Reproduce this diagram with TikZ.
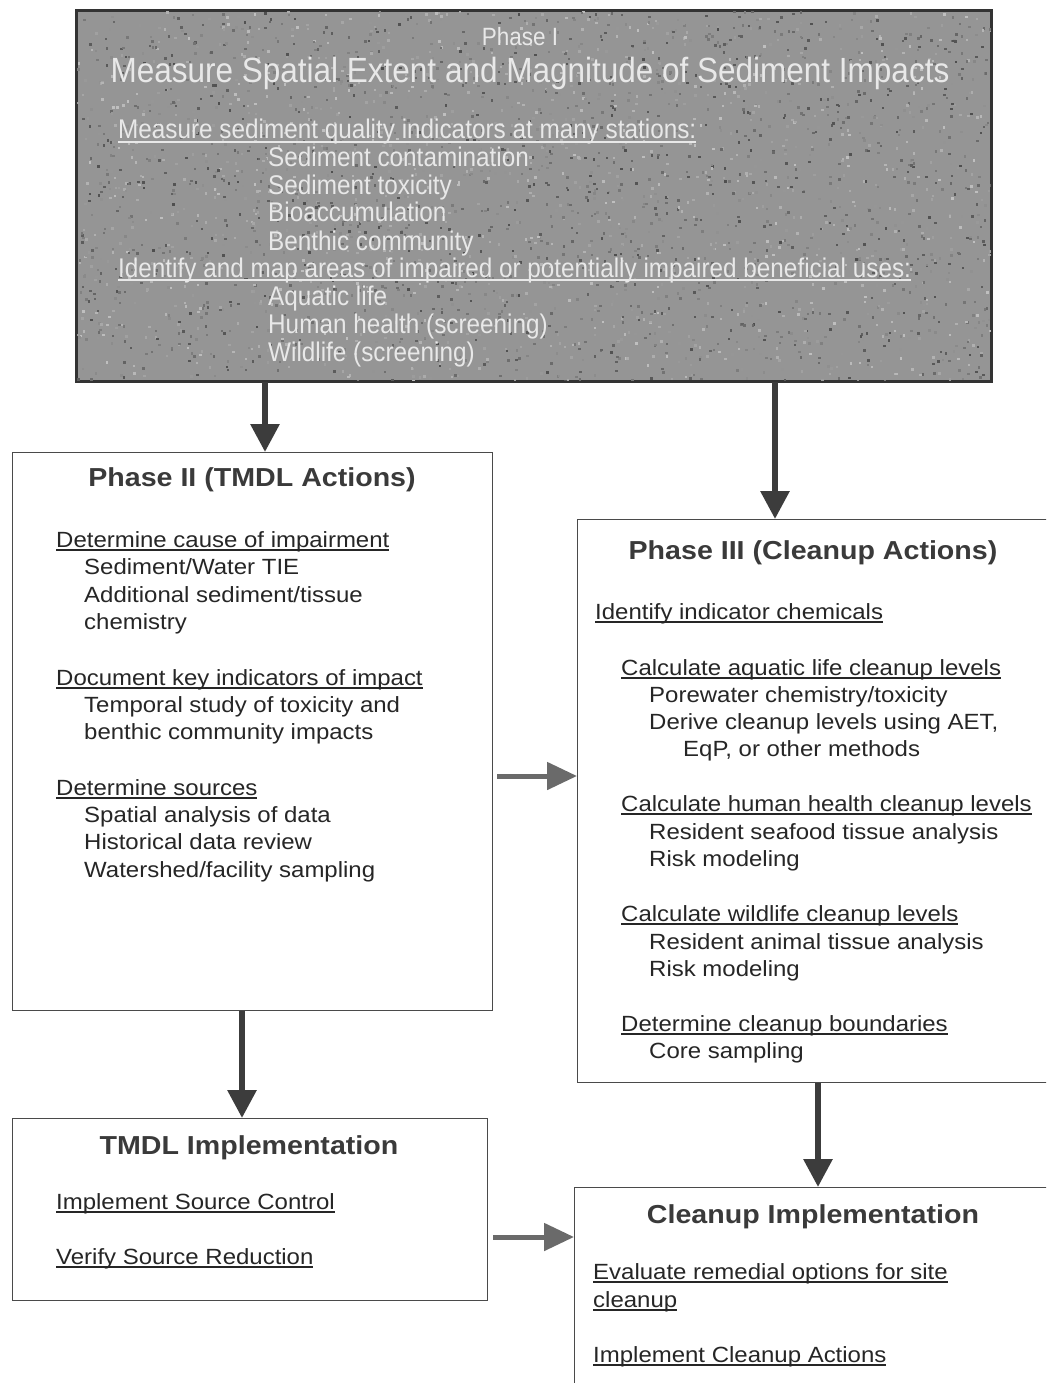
\documentclass[tikz,border=0pt]{standalone}
\usepackage{fontspec}
\setmainfont{Liberation Sans}
\newfontfamily\bodyf[FakeStretch=1.09]{Liberation Sans}
\newfontfamily\titlef[FakeStretch=1.1]{Liberation Sans}
\newfontfamily\narrowf[FakeStretch=0.9]{Liberation Sans}
\usetikzlibrary{arrows.meta}
\definecolor{tcol}{HTML}{262626}
\definecolor{ttl}{HTML}{3A3A3A}
\definecolor{boxln}{HTML}{4A4A4A}
\definecolor{pone}{HTML}{959595}
\definecolor{ponetxt}{HTML}{E8E8E8}
\definecolor{darkarr}{HTML}{3C3C3C}
\definecolor{midarr}{HTML}{6A6A6A}
\newcommand\ulx[1]{\setbox0\hbox{#1}\rlap{\rule[-3.6pt]{\wd0}{1.3pt}}\box0}
\tikzset{
  boxnode/.style={draw=boxln, line width=1.3pt, anchor=north west, inner sep=0, fill=white},
  txt/.style={anchor=base west, inner sep=0, text=tcol, font=\bodyf\fontsize{22}{26}\selectfont},
  ttlnode/.style={anchor=base, inner sep=0, text=ttl, font=\titlef\bfseries\fontsize{26}{30}\selectfont},
  ptxt/.style={anchor=base west, inner sep=0, text=ponetxt, font=\narrowf\fontsize{27}{30}\selectfont},
  darr/.style={draw=darkarr, line width=6pt, -{Triangle[width=28pt,length=28pt]}, fill=darkarr},
  harr/.style={draw=midarr, line width=5pt, -{Triangle[width=27pt,length=30pt]}, fill=midarr}
}
\begin{document}
\begin{tikzpicture}[x=1pt,y=-1pt]
\useasboundingbox (0,0) rectangle (1046,1383);
\clip (0,0) rectangle (1046,1383);
\fill[white] (0,0) rectangle (1046,1383);

% boxes
\node[boxnode, draw=black!80, line width=2pt, fill=pone, minimum width=914pt, minimum height=370pt] (p1) at (76,10) {};
\node[boxnode, minimum width=480pt, minimum height=558pt] (p2) at (12,452) {};
\node[boxnode, minimum width=490pt, minimum height=563pt] (p3) at (577,519) {};
\node[boxnode, minimum width=475pt, minimum height=182pt] (p4) at (12,1118) {};
\node[boxnode, minimum width=500pt, minimum height=230pt] (p5) at (574,1187) {};

% texture of the Phase I box
\pgfmathsetseed{11}
\begin{scope}
\clip (p1.north west) rectangle (p1.south east);
\foreach \i in {1,...,3000}{
  \pgfmathsetmacro\xx{76+914*rnd}
  \pgfmathsetmacro\yy{10+370*rnd}
  \pgfmathtruncatemacro\gg{25+45*rnd}
  \fill[black!\gg] (\xx,\yy) rectangle ++(2.5,2.5);
}
\end{scope}
\draw[draw=black!80, line width=2pt] (p1.north west) rectangle (p1.south east);

% Phase I text
\node[anchor=base, inner sep=0, text=ponetxt, font=\narrowf\fontsize{25}{28}\selectfont] (t1a) at (520,46) {Phase I};
\node[anchor=base, inner sep=0, text=ponetxt, font=\narrowf\fontsize{35}{38}\selectfont] (t1b) at (530,83) {Measure Spatial Extent and Magnitude of Sediment Impacts};
\node[ptxt] (t1c) at (118,139) {\ulx{Measure sediment quality indicators at many stations:}};
\node[ptxt] (t1d) at (268,167) {Sediment contamination};
\node[ptxt] (t1e) at (268,195) {Sediment toxicity};
\node[ptxt] (t1f) at (268,222) {Bioaccumulation};
\node[ptxt] (t1g) at (268,250) {Benthic community};
\node[ptxt] (t1h) at (118,277) {\ulx{Identify and map areas of impaired or potentially impaired beneficial uses:}};
\node[ptxt] (t1i) at (268,305) {Aquatic life};
\node[ptxt] (t1j) at (268,333) {Human health (screening)};
\node[ptxt] (t1k) at (268,361) {Wildlife (screening)};

% Phase II text
\node[ttlnode] (t2a) at (252,486) {Phase II (TMDL Actions)};
\node[txt] (t2b) at (56,547) {\ulx{Determine cause of impairment}};
\node[txt] (t2c) at (84,574) {Sediment/Water TIE};
\node[txt] (t2d) at (84,602) {Additional sediment/tissue};
\node[txt] (t2e) at (84,629) {chemistry};
\node[txt] (t2f) at (56,685) {\ulx{Document key indicators of impact}};
\node[txt] (t2g) at (84,712) {Temporal study of toxicity and};
\node[txt] (t2h) at (84,739) {benthic community impacts};
\node[txt] (t2i) at (56,795) {\ulx{Determine sources}};
\node[txt] (t2j) at (84,822) {Spatial analysis of data};
\node[txt] (t2k) at (84,849) {Historical data review};
\node[txt] (t2l) at (84,877) {Watershed/facility sampling};

% Phase III text
\node[ttlnode] (t3a) at (813,559) {Phase III (Cleanup Actions)};
\node[txt] (t3b) at (595,619) {\ulx{Identify indicator chemicals}};
\node[txt] (t3c) at (621,675) {\ulx{Calculate aquatic life cleanup levels}};
\node[txt] (t3d) at (649,702) {Porewater chemistry/toxicity};
\node[txt] (t3e) at (649,729) {Derive cleanup levels using AET,};
\node[txt] (t3f) at (683,756) {EqP, or other methods};
\node[txt] (t3g) at (621,811) {\ulx{Calculate human health cleanup levels}};
\node[txt] (t3h) at (649,839) {Resident seafood tissue analysis};
\node[txt] (t3i) at (649,866) {Risk modeling};
\node[txt] (t3j) at (621,921) {\ulx{Calculate wildlife cleanup levels}};
\node[txt] (t3k) at (649,949) {Resident animal tissue analysis};
\node[txt] (t3l) at (649,976) {Risk modeling};
\node[txt] (t3m) at (621,1031) {\ulx{Determine cleanup boundaries}};
\node[txt] (t3n) at (649,1058) {Core sampling};

% TMDL Implementation text
\node[ttlnode] (t4a) at (249,1154) {TMDL Implementation};
\node[txt] (t4b) at (56,1209) {\ulx{Implement Source Control}};
\node[txt] (t4c) at (56,1264) {\ulx{Verify Source Reduction}};

% Cleanup Implementation text
\node[ttlnode] (t5a) at (813,1223) {Cleanup Implementation};
\node[txt] (t5b) at (593,1279) {\ulx{Evaluate remedial options for site}};
\node[txt] (t5c) at (593,1307) {\ulx{cleanup}};
\node[txt] (t5d) at (593,1362) {\ulx{Implement Cleanup Actions}};

% connectors
\coordinate (xa) at (265,0);
\coordinate (xb) at (775,0);
\coordinate (xc) at (242,0);
\coordinate (xd) at (818,0);
\coordinate (ya) at (0,776);
\coordinate (yb) at (0,1237);
\draw[darr] (xa |- p1.south) -- (xa |- p2.north);
\draw[darr] (xb |- p1.south) -- (xb |- p3.north);
\draw[darr] (xc |- p2.south) -- (xc |- p4.north);
\draw[darr] (xd |- p3.south) -- (xd |- p5.north);
\draw[harr] ([xshift=4pt]p2.east |- ya) -- (p3.west |- ya);
\draw[harr] ([xshift=5pt]p4.east |- yb) -- (p5.west |- yb);
\end{tikzpicture}
\end{document}
